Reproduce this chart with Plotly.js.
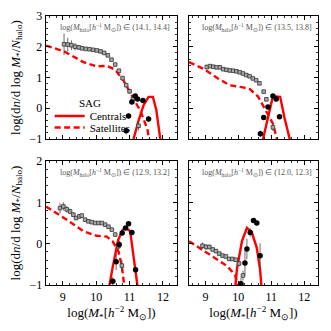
<!DOCTYPE html>
<html>
<head>
<meta charset="utf-8">
<script src="https://cdn.plot.ly/plotly-3.0.1.min.js"></script>
<style>
  html, body { margin: 0; padding: 0; background: #fff; }
  #chart { width: 331px; height: 331px; }
</style>
</head>
<body>
<div id="chart"></div>
<script>
// halo mass bins, one per panel
var haloBins = ['(14.1, 14.4]', '(13.5, 13.8]', '(12.9, 13.2]', '(12.0, 12.3]'];

// panel 1: log Mhalo in (14.1, 14.4]
var p1SatX = [9.04, 9.15, 9.26, 9.37, 9.48, 9.58, 9.69, 9.8, 9.91, 10.02, 10.13, 10.24, 10.35, 10.46, 10.57, 10.68, 10.79, 10.9, 11.0, 11.1, 11.27];
var p1SatY = [2.08, 2.07, 2.05, 2.0, 1.98, 1.95, 1.93, 1.92, 1.9, 1.88, 1.85, 1.8, 1.72, 1.58, 1.42, 1.22, 0.98, 0.75, 0.55, 0.3, -0.57];
var p1SatErr = [0.35, 0.22, 0.16, 0.12, 0.08, 0.06, 0.05, 0.04, 0.04, 0.03, 0.03, 0.03, 0.03, 0.03, 0.03, 0.04, 0.05, 0.06, 0.08, 0.1, 0.15];
var p1CenX = [10.9, 10.97, 11.07, 11.17, 11.24, 11.4, 11.57];
var p1CenY = [-0.73, -0.25, 0.2, 0.4, 0.3, 0.25, -0.35];
var p1CenErr = [0.12, 0.08, 0.06, 0.05, 0.05, 0.06, 0.1];
var p1ModCenX = [11.05, 11.12, 11.27, 11.42, 11.57, 11.7, 11.8, 11.9, 11.97];
var p1ModCenY = [-1.6, -1.0, -0.4, 0.1, 0.37, 0.37, -0.05, -0.7, -1.4];
var p1ModSatX = [8.5, 9.04, 9.62, 10.02, 10.32, 10.57, 10.82, 11.07, 11.33, 11.53, 11.62];
var p1ModSatY = [2.04, 1.85, 1.5, 1.36, 1.38, 1.25, 0.9, 0.42, -0.1, -0.67, -1.2];

// panel 2: log Mhalo in (13.5, 13.8]
var p2SatX = [9.04, 9.14, 9.24, 9.34, 9.44, 9.54, 9.64, 9.74, 9.84, 9.94, 10.04, 10.14, 10.24, 10.34, 10.44, 10.54, 10.64, 10.77, 10.85, 11.05];
var p2SatY = [1.34, 1.37, 1.35, 1.33, 1.33, 1.27, 1.25, 1.23, 1.22, 1.2, 1.17, 1.13, 1.08, 1.04, 0.97, 0.91, 0.81, 0.54, 0.29, -0.62];
var p2SatErr = [0.08, 0.06, 0.05, 0.04, 0.04, 0.03, 0.03, 0.03, 0.03, 0.03, 0.03, 0.03, 0.03, 0.03, 0.03, 0.03, 0.04, 0.05, 0.06, 0.12];
var p2CenX = [10.67, 10.77, 10.9, 11.05, 11.15, 11.25];
var p2CenY = [-0.83, -0.3, 0.04, 0.4, 0.3, -0.28];
var p2CenErr = [0.1, 0.08, 0.05, 0.04, 0.04, 0.06];
var p2ModCenX = [10.7, 10.75, 10.9, 11.05, 11.27, 11.4, 11.56, 11.62];
var p2ModCenY = [-1.5, -1.0, -0.3, 0.39, 0.37, -0.3, -1.0, -1.4];
var p2ModSatX = [8.5, 8.93, 9.38, 9.73, 10.14, 10.35, 10.6, 10.85, 11.05, 11.17, 11.22];
var p2ModSatY = [1.5, 1.29, 0.97, 0.75, 0.68, 0.62, 0.38, -0.1, -0.5, -1.0, -1.3];

// panel 3: log Mhalo in (12.9, 13.2]
var p3SatX = [8.92, 9.02, 9.12, 9.22, 9.32, 9.4, 9.5, 9.57, 9.67, 9.77, 9.87, 9.97, 10.07, 10.17, 10.27, 10.37, 10.47, 10.57, 10.67, 10.77];
var p3SatY = [0.86, 0.9, 0.83, 0.78, 0.7, 0.62, 0.66, 0.68, 0.58, 0.54, 0.52, 0.5, 0.5, 0.5, 0.46, 0.41, 0.34, 0.22, -0.06, -0.53];
var p3SatErr = [0.12, 0.1, 0.08, 0.07, 0.06, 0.05, 0.05, 0.04, 0.04, 0.04, 0.03, 0.03, 0.03, 0.03, 0.03, 0.03, 0.04, 0.05, 0.08, 0.14];
var p3CenX = [10.5, 10.6, 10.69, 10.78, 10.88, 10.97, 11.07, 11.18];
var p3CenY = [-0.91, -0.44, -0.02, 0.26, 0.38, 0.48, 0.27, -0.63];
var p3CenErr = [0.1, 0.2, 0.1, 0.05, 0.04, 0.04, 0.05, 0.08];
var p3ModCenX = [10.35, 10.4, 10.5, 10.66, 10.8, 10.9, 11.02, 11.1, 11.2, 11.25, 11.3];
var p3ModCenY = [-1.5, -1.0, -0.55, 0.09, 0.34, 0.38, 0.3, -0.15, -0.71, -1.0, -1.4];
var p3ModSatX = [8.5, 9.12, 9.62, 10.02, 10.32, 10.5, 10.67, 10.77, 10.84, 10.88];
var p3ModSatY = [0.9, 0.58, 0.3, 0.19, 0.17, 0.05, -0.19, -0.55, -1.0, -1.3];

// panel 4: log Mhalo in (12.0, 12.3]
var p4SatX = [8.91, 9.02, 9.12, 9.22, 9.32, 9.42, 9.52, 9.62, 9.72, 9.82, 9.92, 10.02, 10.14];
var p4SatY = [-0.05, -0.08, -0.08, -0.14, -0.18, -0.24, -0.29, -0.31, -0.37, -0.37, -0.39, -0.48, -0.77];
var p4SatErr = [0.08, 0.07, 0.06, 0.05, 0.05, 0.04, 0.04, 0.04, 0.04, 0.04, 0.05, 0.07, 0.12];
var p4CenX = [10.08, 10.2, 10.26, 10.36, 10.46, 10.56, 10.66];
var p4CenY = [-0.97, -0.47, -0.13, 0.27, 0.56, 0.5, -0.29];
var p4CenErr = [0.15, 0.3, 0.25, 0.1, 0.06, 0.06, 0.3];
var p4ModCenX = [9.85, 9.9, 9.96, 10.11, 10.26, 10.41, 10.56, 10.66, 10.7, 10.74];
var p4ModCenY = [-1.5, -1.0, -0.6, 0.06, 0.38, 0.27, -0.1, -0.63, -1.0, -1.4];
var p4ModSatX = [8.5, 9.14, 9.64, 9.9, 9.97, 10.0];
var p4ModSatY = [0.06, -0.26, -0.53, -0.75, -1.0, -1.3];

var panels = [
  {sx: p1SatX, sy: p1SatY, se: p1SatErr, cx: p1CenX, cy: p1CenY, ce: p1CenErr, mcx: p1ModCenX, mcy: p1ModCenY, msx: p1ModSatX, msy: p1ModSatY},
  {sx: p2SatX, sy: p2SatY, se: p2SatErr, cx: p2CenX, cy: p2CenY, ce: p2CenErr, mcx: p2ModCenX, mcy: p2ModCenY, msx: p2ModSatX, msy: p2ModSatY},
  {sx: p3SatX, sy: p3SatY, se: p3SatErr, cx: p3CenX, cy: p3CenY, ce: p3CenErr, mcx: p3ModCenX, mcy: p3ModCenY, msx: p3ModSatX, msy: p3ModSatY},
  {sx: p4SatX, sy: p4SatY, se: p4SatErr, cx: p4CenX, cy: p4CenY, ce: p4CenErr, mcx: p4ModCenX, mcy: p4ModCenY, msx: p4ModSatX, msy: p4ModSatY}
];

var serif = 'Liberation Serif, Times New Roman, serif';
var red = '#ff0000';
var data = [];

panels.forEach(function (p, i) {
  var xa = i === 0 ? 'x' : 'x' + (i + 1);
  var ya = i === 0 ? 'y' : 'y' + (i + 1);
  // SAG model lines
  data.push({type: 'scatter', mode: 'lines', x: p.msx, y: p.msy, xaxis: xa, yaxis: ya,
    name: 'Satellites', showlegend: i === 0, legend: 'legend2',
    line: {color: red, width: 2.4, dash: '6px,3.5px'}});
  data.push({type: 'scatter', mode: 'lines', x: p.mcx, y: p.mcy, xaxis: xa, yaxis: ya,
    name: 'Centrals', showlegend: i === 0, legend: 'legend',
    line: {color: red, width: 2.4}});
  // observed satellites
  data.push({type: 'scatter', mode: 'markers', x: p.sx, y: p.sy, xaxis: xa, yaxis: ya,
    showlegend: false,
    error_y: {type: 'data', array: p.se, color: '#444', thickness: 0.8, width: 0},
    marker: {symbol: 'square', size: 3.6, color: '#a8a8a8', line: {color: '#333', width: 0.8}}});
  // observed centrals
  data.push({type: 'scatter', mode: 'markers', x: p.cx, y: p.cy, xaxis: xa, yaxis: ya,
    showlegend: false,
    error_y: {type: 'data', array: p.ce, color: '#444', thickness: 0.8, width: 0},
    marker: {symbol: 'circle', size: 5.5, color: '#000'}});
});

function axis(range, domain, anchor, labels) {
  return {
    range: range, domain: domain, anchor: anchor,
    showline: true, linecolor: '#000', linewidth: 1.3, mirror: 'allticks',
    ticks: 'inside', ticklen: 4, tickwidth: 1, tickcolor: '#000',
    dtick: 1, tick0: 0,
    minor: {ticks: 'inside', ticklen: 2, tickwidth: 0.8, tickcolor: '#000', dtick: 0.2, showgrid: false},
    showgrid: false, zeroline: false, showticklabels: labels,
    tickfont: {family: serif, size: 12, color: '#000'}
  };
}

var xl = [46 / 331, 177 / 331], xr = [189 / 331, 318 / 331];
var yt = [1 - 139 / 331, 1 - 16 / 331], yb = [1 - 285 / 331, 1 - 161 / 331];
var xRange = [8.5, 12.42];

var xTitle = {text: 'log(<i>M</i><sub>*</sub>[<i>h</i><sup>−2</sup> M<sub>⊙</sub>])', font: {family: serif, size: 13, color: '#000'}, standoff: 0};
var yTitle = {text: 'log(d<i>n</i>/d log <i>M</i><sub>*</sub>/<i>N</i><sub>halo</sub>)', font: {family: serif, size: 13, color: '#000'}, standoff: 6};

var legendBase = {
  xanchor: 'left', yanchor: 'middle', bgcolor: 'rgba(0,0,0,0)', borderwidth: 0,
  itemwidth: 30, font: {family: serif, size: 11, color: '#000'}
};

var layout = {
  width: 331, height: 331,
  margin: {l: 0, r: 0, t: 0, b: 0},
  paper_bgcolor: '#fff', plot_bgcolor: '#fff',
  showlegend: true,
  legend: Object.assign({x: 0.15, y: 1 - 116 / 331}, legendBase),
  legend2: Object.assign({x: 0.15, y: 1 - 127.5 / 331}, legendBase),
  xaxis: axis(xRange, xl, 'y', false),
  yaxis: Object.assign(axis([-1, 3], yt, 'x', true), {title: yTitle}),
  xaxis2: axis(xRange, xr, 'y2', false),
  yaxis2: axis([-1, 3], yt, 'x2', false),
  xaxis3: Object.assign(axis(xRange, xl, 'y3', true), {title: xTitle}),
  yaxis3: Object.assign(axis([-1, 2], yb, 'x3', true), {title: yTitle}),
  xaxis4: Object.assign(axis(xRange, xr, 'y4', true), {title: xTitle}),
  yaxis4: axis([-1, 2], yb, 'x4', false),
  annotations: haloBins.map(function (b, i) {
    var s = i === 0 ? '' : String(i + 1);
    return {
      xref: 'x' + s + ' domain', yref: 'y' + s + ' domain',
      x: 0.53, y: 0.97, xanchor: 'center', yanchor: 'top', showarrow: false,
      text: 'log(<i>M</i><sub>halo</sub>[<i>h</i><sup>−1</sup> M<sub>⊙</sub>]) ∈ ' + b,
      font: {family: serif, size: 8, color: '#555'}
    };
  }).concat([{
    xref: 'paper', yref: 'paper', x: 90 / 331, y: 1 - 103 / 331,
    xanchor: 'center', yanchor: 'middle', showarrow: false,
    text: 'SAG', font: {family: serif, size: 11, color: '#000'}
  }])
};

Plotly.newPlot('chart', data, layout, {displayModeBar: false, staticPlot: true});
</script>
</body>
</html>
